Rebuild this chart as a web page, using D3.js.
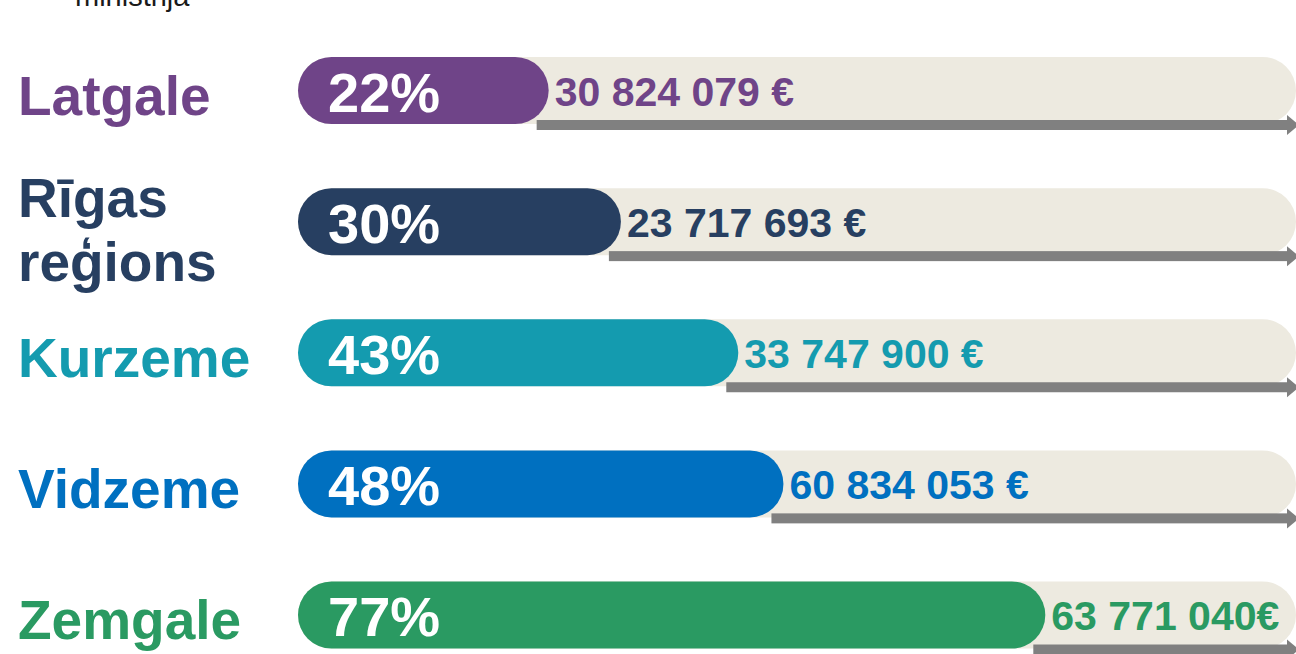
<!DOCTYPE html>
<html>
<head>
<meta charset="utf-8">
<script src="https://cdn.jsdelivr.net/npm/d3@7"></script>
<style>
  body { margin: 0; background: #fff; overflow: hidden; }
  text { font-family: "Liberation Sans", Arial, sans-serif; font-weight: bold; }
</style>
</head>
<body>
<svg width="1296" height="654"></svg>
<script>
var svg = d3.select('svg');
var width = +svg.attr("width");
var height = +svg.attr("height");

// data
var regions = ["Latgale", "Rīgas reģions", "Kurzeme", "Vidzeme", "Zemgale"];
var labelLines = [["Latgale"], ["Rīgas", "reģions"], ["Kurzeme"], ["Vidzeme"], ["Zemgale"]];
var shares = [22, 30, 43, 48, 77];
var amounts = ["30 824 079 €", "23 717 693 €", "33 747 900 €", "60 834 053 €", "63 771 040€"];
var colors = ["#6f4488", "#273f61", "#149baf", "#0070c0", "#2a9a62"];

var rows = regions.map(function(r, i) {
    return {region: r, lines: labelLines[i], share: shares[i], amount: amounts[i], color: colors[i]};
});

var barX = 298;
var barH = 67;
var bgEnd = 1296;

var y = d3.scalePoint()
    .domain(regions)
    .range([90.5, 615]);

var w = d3.scaleLinear()
    .domain([0, 100])
    .range([52, 955]);

// header text, cut off at the top edge
svg.append("text")
    .attr("x", 75)
    .attr("y", 6)
    .style("font-weight", "normal")
    .style("font-size", "29px")
    .attr("fill", "#1a1a1a")
    .text("ministrija");

var row = svg.append("g")
    .selectAll("g")
    .data(rows)
    .enter()
    .append("g")
    .attr("transform", function(d) { return "translate(0," + y(d.region) + ")"; });

// beige track
row.append("rect")
    .attr("x", barX)
    .attr("y", -barH / 2)
    .attr("width", bgEnd - barX)
    .attr("height", barH)
    .attr("rx", barH / 2)
    .attr("fill", "#edeae0");

// grey arrow under the track
row.append("rect")
    .attr("x", function(d) { return barX + w(d.share) - 12; })
    .attr("y", barH / 2 - 4)
    .attr("width", function(d) { return 1288 - (barX + w(d.share) - 12); })
    .attr("height", 10)
    .attr("fill", "#808080");

row.append("path")
    .attr("d", function() {
        var cy = barH / 2 + 1;
        return "M1287," + (cy - 10) + "L1299," + cy + "L1287," + (cy + 10) + "Z";
    })
    .attr("fill", "#808080");

// coloured bar
row.append("rect")
    .attr("x", barX)
    .attr("y", -barH / 2)
    .attr("width", function(d) { return w(d.share); })
    .attr("height", barH)
    .attr("rx", barH / 2)
    .attr("fill", function(d) { return d.color; });

// percentage
row.append("text")
    .attr("x", barX + 30)
    .attr("y", 21)
    .style("font-size", "56px")
    .attr("fill", "#fff")
    .text(function(d) { return d.share + "%"; });

// amount
row.append("text")
    .attr("x", function(d) { return barX + w(d.share) + 6; })
    .attr("y", 15)
    .style("font-size", "41px")
    .attr("fill", function(d) { return d.color; })
    .text(function(d) { return d.amount; });

// region label
row.append("g")
    .selectAll("text")
    .data(function(d) {
        return d.lines.map(function(t, i) {
            return {text: t, i: i, n: d.lines.length, color: d.color};
        });
    })
    .enter()
    .append("text")
    .attr("x", 18)
    .attr("y", function(d) {
        return 24 + (d.i - (d.n - 1) / 2) * 64 + (d.n > 1 ? 3 : 0);
    })
    .style("font-size", "55px")
    .attr("fill", function(d) { return d.color; })
    .text(function(d) { return d.text; });
</script>
</body>
</html>
